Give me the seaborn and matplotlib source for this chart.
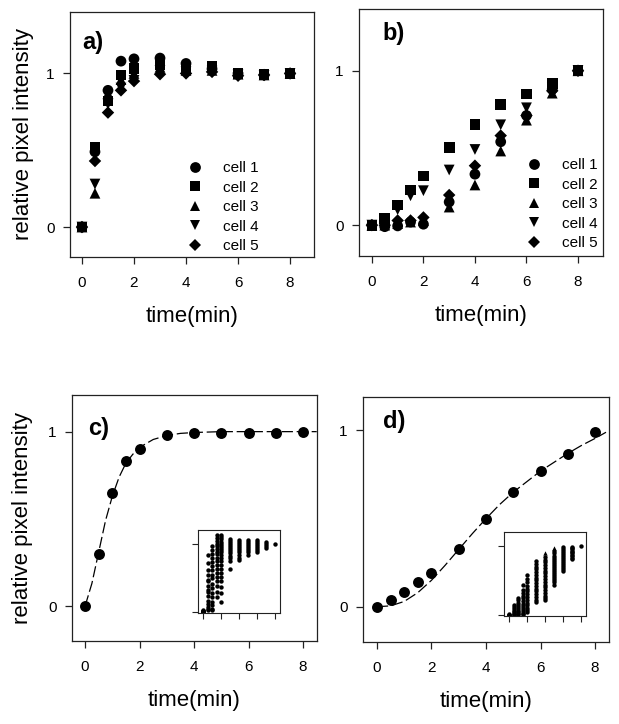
import numpy as np
import pandas as pd
import matplotlib
matplotlib.use("Agg")
import matplotlib.pyplot as plt
from matplotlib.markers import MarkerStyle
from matplotlib.transforms import Affine2D
import seaborn as sns

# ---------------- data ----------------
times = [0, 0.5, 1, 1.5, 2, 3, 4, 5, 6, 7, 8]
cells = ["cell 1", "cell 2", "cell 3", "cell 4", "cell 5"]

a_cell1 = [0, 0.49, 0.89, 1.08, 1.095, 1.10, 1.065, 1.03, 1.00, 0.99, 1.0]
a_cell2 = [0, 0.52, 0.82, 0.99, 1.03, 1.06, 1.04, 1.045, 1.00, 0.995, 1.0]
a_cell3 = [0, 0.22, 0.87, 0.96, 1.00, 1.04, 1.02, 1.02, 0.995, 0.99, 1.0]
a_cell4 = [0, 0.28, 0.80, 0.905, 0.955, 1.02, 1.01, 1.015, 0.99, 0.985, 1.0]
a_cell5 = [0, 0.43, 0.745, 0.89, 0.95, 0.995, 1.0, 1.01, 0.985, 0.99, 1.0]

b_cell1 = [0, -0.01, -0.005, 0.02, 0.006, 0.15, 0.33, 0.54, 0.71, 0.88, 1.0]
b_cell2 = [0, 0.043, 0.13, 0.227, 0.318, 0.502, 0.65, 0.78, 0.85, 0.915, 1.0]
b_cell3 = [0, 0.0, 0.01, 0.02, 0.03, 0.117, 0.26, 0.48, 0.68, 0.855, 1.0]
b_cell4 = [0, 0.0, 0.10, 0.19, 0.223, 0.357, 0.49, 0.65, 0.76, 0.89, 1.0]
b_cell5 = [0, 0.0, 0.03, 0.03, 0.05, 0.195, 0.385, 0.58, 0.71, 0.87, 1.0]

c_mean = [0, 0.30, 0.65, 0.83, 0.90, 0.98, 0.99, 0.995, 0.99, 0.995, 1.0]
d_mean = [0, 0.04, 0.085, 0.138, 0.19, 0.33, 0.50, 0.653, 0.77, 0.867, 0.994]

c_fit_t = [0, 0.25, 0.5, 0.75, 1.0, 1.25, 1.5, 1.75, 2.0, 2.5, 3.0, 3.5, 4.0, 5.0, 6.0, 7.0, 8.0, 8.5]
c_fit_y = [0, 0.13, 0.31, 0.49, 0.63, 0.74, 0.82, 0.87, 0.91, 0.955, 0.978, 0.99, 0.995, 1.0, 1.0, 1.0, 1.0, 1.0]

d_fit_t = [0, 0.5, 1.0, 1.5, 2.0, 2.5, 3.0, 3.5, 4.0, 4.5, 5.0, 5.5, 6.0, 6.5, 7.0, 7.5, 8.0, 8.4]
d_fit_y = [0, 0.005, 0.03, 0.08, 0.15, 0.235, 0.325, 0.415, 0.50, 0.58, 0.65, 0.71, 0.77, 0.82, 0.87, 0.915, 0.955, 0.99]

# inset c: individual cells per time point
ci_t0 = [0.0, 0.0, 0.01, 0.02, 0.0, 0.03, 0.01]
ci_t05 = [0.84, 0.72, 0.62, 0.55, 0.47, 0.45, 0.38, 0.33, 0.30, 0.23, 0.16, 0.12, 0.08, 0.05, 0.03]
ci_t1 = [0.98, 0.92, 0.86, 0.80, 0.74, 0.68, 0.62, 0.55, 0.50, 0.42, 0.35, 0.28, 0.22, 0.15, 0.10, 0.05, 0.03]
ci_t15 = [1.13, 1.09, 1.05, 1.01, 0.97, 0.93, 0.89, 0.85, 0.80, 0.75, 0.70, 0.64, 0.58, 0.52, 0.45, 0.38, 0.30, 0.22]
ci_t2 = [1.13, 1.10, 1.07, 1.04, 1.01, 0.98, 0.95, 0.92, 0.88, 0.84, 0.80, 0.75, 0.70, 0.64, 0.58, 0.52, 0.45, 0.37, 0.28, 0.15]
ci_t3 = [1.08, 1.05, 1.02, 0.99, 0.96, 0.93, 0.90, 0.87, 0.83, 0.79, 0.75, 0.64]
ci_t4 = [1.06, 1.03, 1.00, 0.97, 0.94, 0.91, 0.88, 0.84, 0.80, 0.76]
ci_t5 = [1.06, 1.03, 1.00, 0.97, 0.94, 0.91, 0.88, 0.84]
ci_t6 = [1.06, 1.03, 1.00, 0.97, 0.94, 0.91, 0.89]
ci_t7 = [1.03, 1.00, 0.97, 0.94]
ci_t8 = [1.0]

# inset d: individual cells per time point
di_t0 = [0.0, 0.0, 0.01, 0.0]
di_t05 = [0.14, 0.11, 0.08, 0.06, 0.04, 0.02, 0.01, 0.0]
di_t1 = [0.25, 0.22, 0.18, 0.15, 0.12, 0.09, 0.06, 0.04, 0.02, 0.01]
di_t15 = [0.44, 0.36, 0.32, 0.28, 0.24, 0.20, 0.16, 0.13, 0.10, 0.07, 0.04, 0.02, 0.01]
di_t2 = [0.58, 0.52, 0.47, 0.42, 0.38, 0.34, 0.30, 0.26, 0.22, 0.18, 0.14, 0.10, 0.07, 0.04]
di_t3 = [0.78, 0.74, 0.70, 0.66, 0.62, 0.58, 0.54, 0.50, 0.46, 0.42, 0.38, 0.34, 0.30, 0.26, 0.22, 0.19]
di_t4 = [0.84, 0.80, 0.76, 0.72, 0.68, 0.64, 0.60, 0.56, 0.52, 0.48, 0.44, 0.40, 0.36, 0.32, 0.28, 0.25, 0.22]
di_t5 = [0.92, 0.89, 0.86, 0.83, 0.80, 0.77, 0.74, 0.71, 0.68, 0.65, 0.62, 0.59, 0.56, 0.53, 0.50, 0.47, 0.44]
di_t6 = [0.99, 0.96, 0.93, 0.90, 0.87, 0.84, 0.81, 0.78, 0.75, 0.72, 0.69, 0.66, 0.63]
di_t7 = [0.99, 0.97, 0.95, 0.93, 0.91, 0.89, 0.87, 0.85, 0.83, 0.81]
di_t8 = [1.0]
di_tri_t = [4, 5]
di_tri_y = [0.90, 0.97]

x_ticks = [0, 2, 4, 6, 8]
y_ticks = [0, 1]
x_label = "time(min)"
y_label = "relative pixel intensity"

# ---------------- style ----------------
sns.set_theme(style="white")
plt.rcParams["font.family"] = ["Liberation Sans", "DejaVu Sans"]
plt.rcParams["text.color"] = "black"
plt.rcParams["axes.labelcolor"] = "black"
plt.rcParams["xtick.color"] = "black"
plt.rcParams["ytick.color"] = "black"

W, H = 619, 724
fig = plt.figure(figsize=(W / 100, H / 100), dpi=100)


def px_axes(left, top, right, bottom):
    return fig.add_axes([left / W, 1 - bottom / H, (right - left) / W, (bottom - top) / H])


def style_main(ax, xlim, ylim):
    ax.set_xlim(*xlim)
    ax.set_ylim(*ylim)
    ax.set_xticks(x_ticks)
    ax.set_yticks(y_ticks)
    ax.set_xticklabels([str(t) for t in x_ticks])
    ax.set_yticklabels([str(t) for t in y_ticks])
    for s in ax.spines.values():
        s.set_color("#222222")
        s.set_linewidth(0.9)
    ax.tick_params(axis="both", which="major", direction="out", length=5,
                   width=0.9, color="#222222", labelsize=11, labelcolor="black",
                   bottom=True, left=True, top=False, right=False)
    ax.tick_params(axis="x", pad=9)
    ax.tick_params(axis="y", pad=6)
    ax.set_xlabel(x_label, fontsize=16, labelpad=11)
    ax.set_ylabel("")
    ax.grid(False)


def long_df(ys):
    rows = []
    for cell, y in zip(cells, ys):
        for t, v in zip(times, y):
            rows.append((t, v, cell))
    return pd.DataFrame(rows, columns=["time", "value", "cell"])


diamond = MarkerStyle("D", transform=Affine2D().scale(0.82))
markers = {"cell 1": "o", "cell 2": "s", "cell 3": "^", "cell 4": "v", "cell 5": diamond}

ax_a = px_axes(70, 12, 314, 257)
ax_b = px_axes(359, 9, 603, 256)
ax_c = px_axes(72, 395, 317, 641)
ax_d = px_axes(363, 397, 609, 642)

for ax, ys, lim, legpos, lab, labpos in [
    (ax_a, [a_cell1, a_cell2, a_cell3, a_cell4, a_cell5], ((-0.46, 8.92), (-0.195, 1.40)),
     (0.43, 0.435), "a)", (0.0, 1.2)),
    (ax_b, [b_cell1, b_cell2, b_cell3, b_cell4, b_cell5], ((-0.50, 8.97), (-0.20, 1.40)),
     (0.635, 0.44), "b)", (0.43, 1.24)),
]:
    df = long_df(ys)
    sns.scatterplot(data=df, x="time", y="value", style="cell", markers=markers,
                    color="black", s=60, linewidth=0, ax=ax, legend=True)
    style_main(ax, *lim)
    h, l = ax.get_legend_handles_labels()
    ax.legend(h, l, loc="upper left", bbox_to_anchor=legpos, frameon=False,
              fontsize=11, handletextpad=1.25, labelspacing=0.36, borderpad=0.2,
              handlelength=1.2)
    ax.text(labpos[0], labpos[1], lab, fontsize=17, fontweight="bold", ha="left", va="center")

ax_a.set_ylabel(y_label, fontsize=16, labelpad=9)

# panel c
sns.lineplot(x=c_fit_t, y=c_fit_y, ax=ax_c, color="black", linewidth=0.9,
             linestyle=(0, (9, 3)), zorder=2)
sns.scatterplot(x=times, y=c_mean, ax=ax_c, color="black", s=62, linewidth=0, zorder=3)
style_main(ax_c, (-0.48, 8.51), (-0.20, 1.21))
ax_c.set_ylabel(y_label, fontsize=16, labelpad=11)
ax_c.text(0.1, 1.02, "c)", fontsize=17, fontweight="bold", ha="left", va="center")

# panel d
sns.lineplot(x=d_fit_t, y=d_fit_y, ax=ax_d, color="black", linewidth=0.9,
             linestyle=(0, (9, 3)), zorder=2)
sns.scatterplot(x=times, y=d_mean, ax=ax_d, color="black", s=62, linewidth=0, zorder=3)
style_main(ax_d, (-0.51, 8.51), (-0.20, 1.19))
ax_d.text(0.22, 1.05, "d)", fontsize=17, fontweight="bold", ha="left", va="center")


def inset_df(cols):
    rows = []
    for t, vals in zip(times, cols):
        for v in vals:
            rows.append((t, v))
    return pd.DataFrame(rows, columns=["time", "value"])


def style_inset(ax, ylim):
    ax.set_xlim(-0.56, 8.56)
    ax.set_ylim(*ylim)
    ax.set_xticks(x_ticks)
    ax.set_yticks(y_ticks)
    ax.set_xticklabels([])
    ax.set_yticklabels([])
    ax.set_xlabel("")
    ax.set_ylabel("")
    for s in ax.spines.values():
        s.set_color("#222222")
        s.set_linewidth(0.8)
    ax.tick_params(axis="both", direction="out", length=4, width=0.8, color="#222222",
                   bottom=True, left=True, top=False, right=False)
    ax.set_facecolor("white")


ax_ci = px_axes(198, 530, 280, 613)
dfc = inset_df([ci_t0, ci_t05, ci_t1, ci_t15, ci_t2, ci_t3, ci_t4, ci_t5, ci_t6, ci_t7, ci_t8])
sns.scatterplot(data=dfc, x="time", y="value", ax=ax_ci, color="black", s=10, linewidth=0)
style_inset(ax_ci, (-0.015, 1.21))

ax_di = px_axes(504, 532, 586, 616)
dfd = inset_df([di_t0, di_t05, di_t1, di_t15, di_t2, di_t3, di_t4, di_t5, di_t6, di_t7, di_t8])
sns.scatterplot(data=dfd, x="time", y="value", ax=ax_di, color="black", s=10, linewidth=0)
sns.scatterplot(x=di_tri_t, y=di_tri_y, ax=ax_di, color="black", s=10, marker="^", linewidth=0)
style_inset(ax_di, (-0.015, 1.20))

fig.savefig("out.png", dpi=100, facecolor="white")
